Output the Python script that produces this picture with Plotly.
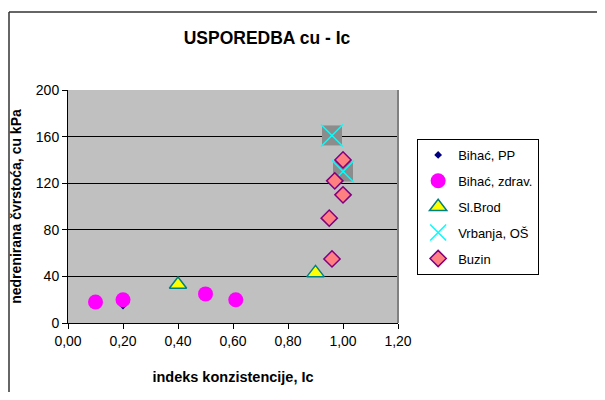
import plotly.graph_objects as go

# Data
pp_x = [0.20]
pp_y = [15]
zdrav_x = [0.10, 0.20, 0.50, 0.61]
zdrav_y = [18, 20, 25, 20]
brod_x = [0.40, 0.90]
brod_y = [33, 43]
vrb_x = [0.96, 1.00]
vrb_y = [161, 130]
buzin_x = [1.00, 0.97, 1.00, 0.95, 0.96]
buzin_y = [140, 122, 110, 90, 55]

x_ticks = [0, 0.2, 0.4, 0.6, 0.8, 1.0, 1.2]
x_labels = ["0,00", "0,20", "0,40", "0,60", "0,80", "1,00", "1,20"]
y_ticks = [0, 40, 80, 120, 160, 200]

FONT = "Liberation Sans, Arial, sans-serif"

# Geometry (page body has an 8px default margin)
W, H = 589, 384
L, R, T, B = 60, 199, 82, 69
PW, PH = W - L - R, H - T - B

fig = go.Figure()
fig.add_trace(go.Scatter(x=pp_x, y=pp_y, mode="markers", name="Bihać, PP",
                         legendgroup="a",
                         marker=dict(symbol="diamond", size=6, color="#000080",
                                     line=dict(width=0))))
fig.add_trace(go.Scatter(x=zdrav_x, y=zdrav_y, mode="markers", name="Bihać, zdrav.",
                         legendgroup="b",
                         marker=dict(symbol="circle", size=15, color="#FF00FF",
                                     line=dict(width=0))))
fig.add_trace(go.Scatter(x=brod_x, y=brod_y, mode="markers", name="Sl.Brod",
                         legendgroup="c",
                         marker=dict(symbol="triangle-up", size=15, color="#FFFF00",
                                     line=dict(width=1.5, color="#008080"))))
fig.add_trace(go.Scatter(x=vrb_x, y=vrb_y, mode="markers", name="Vrbanja, OŠ",
                         legendgroup="d", showlegend=False,
                         marker=dict(symbol="square", size=20, color="#8c8c8c",
                                     line=dict(width=0))))
fig.add_trace(go.Scatter(x=vrb_x, y=vrb_y, mode="markers", name="Vrbanja, OŠ",
                         legendgroup="d",
                         marker=dict(symbol="x-thin", size=22, color="#00FFFF",
                                     line=dict(width=1.5, color="#00FFFF"))))
fig.add_trace(go.Scatter(x=buzin_x, y=buzin_y, mode="markers", name="Buzin",
                         legendgroup="e",
                         marker=dict(symbol="diamond", size=12.5, color="#FF8080",
                                     line=dict(width=1.5, color="#800080"))))

fig.update_layout(
    width=W, height=H,
    margin=dict(l=L, r=R, t=T, b=B, autoexpand=False),
    paper_bgcolor="white",
    plot_bgcolor="#C0C0C0",
    font=dict(family=FONT, size=12, color="black"),
    title=dict(text="<b>USPOREDBA cu - Ic</b>", x=259 / W, xanchor="center",
               y=1 - 30 / H, yanchor="middle", font=dict(size=17.5, family=FONT)),
    showlegend=True,
    legend=dict(x=1.058, y=0.79, xanchor="left", yanchor="top",
                bgcolor="white", bordercolor="black", borderwidth=1,
                font=dict(size=13, family=FONT), tracegroupgap=6,
                traceorder="grouped", itemwidth=30),
    xaxis=dict(range=[0, 1.2], tickvals=x_ticks, ticktext=x_labels,
               showgrid=False, zeroline=False, showline=True, linecolor="black",
               linewidth=1, ticks="outside", ticklen=5, tickcolor="black",
               tickfont=dict(size=14), automargin=False,
               title=dict(text="<b>indeks konzistencije, Ic</b>", font=dict(size=14.5),
                          standoff=24)),
    yaxis=dict(range=[0, 200], tickvals=y_ticks, showgrid=True,
               gridcolor="black", gridwidth=1, zeroline=False, showline=True,
               linecolor="black", linewidth=1, ticks="outside", ticklen=5,
               tickcolor="black", tickfont=dict(size=14), automargin=False,
               title=dict(text="<b>nedrenirana čvrstoća, cu kPa</b>",
                          font=dict(size=14), standoff=10)),
)

# Right border of plot area (gray)
fig.add_shape(type="line", xref="paper", yref="paper", x0=1, x1=1, y0=0, y1=1,
              line=dict(color="#808080", width=2))
# Chart outer frame (left and top edges; right/bottom lie outside the page)
fx = (1 - L) / PW
fy = (H - B - 4) / PH
fig.add_shape(type="line", xref="paper", yref="paper", x0=fx, x1=fx, y0=-1.0, y1=fy,
              line=dict(color="#333333", width=1.5))
fig.add_shape(type="line", xref="paper", yref="paper", x0=fx, x1=3.0, y0=fy, y1=fy,
              line=dict(color="#333333", width=1.5))

fig.write_html("out.html")
